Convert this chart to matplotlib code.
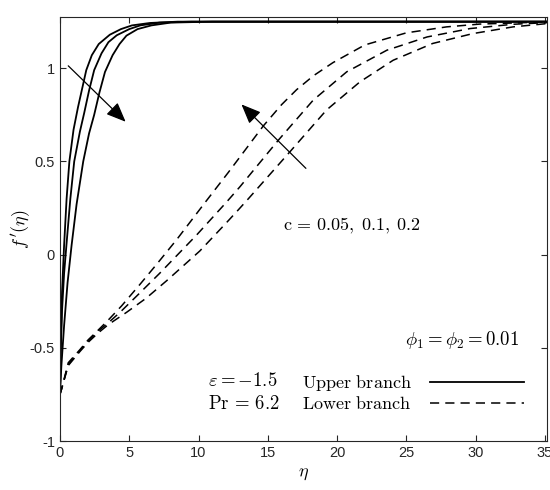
import matplotlib
matplotlib.use('Agg')
import matplotlib.pyplot as plt

plt.rcParams['mathtext.fontset'] = 'cm'
plt.rcParams['font.family'] = ['Liberation Sans', 'DejaVu Sans']

# upper branch (solid), c = 0.05, 0.1, 0.2
eta_u1 = [0, 0.06, 0.15, 0.3, 0.48, 0.68, 0.98, 1.3, 1.6, 1.9, 2.3, 2.8, 3.6, 4.4, 5.2, 6.5, 8.5, 12, 35.2]
fp_u1 = [-0.75, -0.5, -0.2, 0.05, 0.3, 0.5, 0.67, 0.79, 0.89, 0.99, 1.07, 1.13, 1.18, 1.21, 1.23, 1.243, 1.25, 1.25, 1.25]
eta_u2 = [0, 0.06, 0.15, 0.3, 0.5, 0.75, 1.03, 1.44, 1.75, 2.1, 2.47, 3.0, 3.5, 4.1, 5.0, 5.8, 7.2, 9.5, 13, 35.2]
fp_u2 = [-0.75, -0.5, -0.3, -0.1, 0.08, 0.3, 0.5, 0.66, 0.76, 0.88, 0.99, 1.08, 1.14, 1.177, 1.21, 1.23, 1.245, 1.25, 1.25, 1.25]
eta_u3 = [0, 0.1, 0.3, 0.55, 0.84, 1.2, 1.68, 2.1, 2.47, 2.85, 3.25, 3.8, 4.3, 4.8, 5.6, 6.6, 8.0, 11, 35.2]
fp_u3 = [-0.75, -0.6, -0.38, -0.15, 0.05, 0.27, 0.5, 0.65, 0.75, 0.87, 0.98, 1.07, 1.13, 1.175, 1.21, 1.23, 1.245, 1.25, 1.25]

# lower branch (dashed)
eta_l1 = [0, 0.12, 0.6, 1.44, 2.04, 2.76, 3.5, 4.45, 5.77, 7.0, 8.42, 10.58, 12.14, 14.67, 16.0, 17.08, 18.3, 19.7, 22.0, 25.0, 27.9, 30.3, 35.2]
fp_l1 = [-0.75, -0.72, -0.58, -0.51, -0.457, -0.405, -0.35, -0.275, -0.16, -0.05, 0.08, 0.29, 0.44, 0.69, 0.805, 0.885, 0.96, 1.03, 1.125, 1.19, 1.222, 1.237, 1.249]
eta_l2 = [0, 0.12, 0.6, 1.44, 2.04, 2.76, 3.5, 4.33, 5.5, 7.2, 9.86, 12.0, 13.0, 15.75, 18.28, 20.7, 23.6, 26.5, 29.6, 32.7, 35.2]
fp_l2 = [-0.75, -0.72, -0.59, -0.515, -0.465, -0.41, -0.365, -0.31, -0.225, -0.1, 0.105, 0.28, 0.365, 0.613, 0.829, 0.981, 1.097, 1.168, 1.213, 1.236, 1.245]
eta_l3 = [0, 0.12, 0.6, 1.44, 2.04, 2.76, 3.5, 4.8, 6.2, 7.7, 10.1, 12.0, 12.87, 13.6, 16.6, 19.24, 21.65, 24.05, 26.9, 29.8, 32.7, 35.2]
fp_l3 = [-0.75, -0.72, -0.595, -0.52, -0.47, -0.42, -0.375, -0.31, -0.235, -0.14, 0.02, 0.17, 0.24, 0.3, 0.552, 0.776, 0.927, 1.043, 1.133, 1.186, 1.222, 1.24]

fig = plt.figure(figsize=(5.5, 4.9), dpi=100)
ax = fig.add_axes([0.109, 0.1, 0.8855, 0.8653])

dash = (0, (6, 4))
for x, y in [(eta_u1, fp_u1), (eta_u2, fp_u2), (eta_u3, fp_u3)]:
    ax.plot(x, y, color='black', lw=1.3, label='_nolegend_')
for x, y in [(eta_l1, fp_l1), (eta_l2, fp_l2), (eta_l3, fp_l3)]:
    ax.plot(x, y, color='black', lw=1.1, linestyle=dash, label='_nolegend_')

# legend handles
ax.plot([], [], color='black', lw=1.3, label=r'$\mathrm{Upper\ branch}$')
ax.plot([], [], color='black', lw=1.1, linestyle=dash, label=r'$\mathrm{Lower\ branch}$')
ax.legend(loc='lower right', bbox_to_anchor=(0.986, 0.028), frameon=False, markerfirst=False,
          handlelength=5.2, handletextpad=1.0, labelspacing=0.15, fontsize=13)

# arrows
arr = dict(arrowstyle='-|>,head_length=1.2,head_width=0.5', color='black', lw=0.9, shrinkA=0, shrinkB=0)
ax.annotate('', xy=(4.74, 0.713), xytext=(0.6, 1.013), arrowprops=arr)
ax.annotate('', xy=(13.1, 0.806), xytext=(17.75, 0.463), arrowprops=arr)

fs = 13.5
ax.text(16.1, 0.154, r'$\mathrm{c}\,=\,0.05,\;0.1,\;0.2$', fontsize=13, va='center')
ax.text(24.9, -0.457, r'$\phi_1=\phi_2=0.01$', fontsize=fs, va='center')
ax.text(10.7, -0.677, r'$\varepsilon=-1.5$', fontsize=fs, va='center')
ax.text(10.7, -0.80, r'$\mathrm{Pr}\,=\,6.2$', fontsize=fs, va='center')

ax.set_xlim(0, 35.15)
ax.set_ylim(-1, 1.275)
ax.set_xticks([0, 5, 10, 15, 20, 25, 30, 35])
ax.set_yticks([-1, -0.5, 0, 0.5, 1])
ax.set_yticklabels(['-1', '-0.5', '0', '0.5', '1'])
ax.tick_params(direction='in', top=True, right=True, length=4.5, width=0.8,
               labelsize=10.5, colors='#262626', labelcolor='#262626')
for s in ax.spines.values():
    s.set_color('#262626')
    s.set_linewidth(0.8)

ax.set_xlabel(r'$\eta$', fontsize=13, labelpad=4)
ax.set_ylabel(r"$f\,'(\eta)$", fontsize=13, labelpad=-2)

plt.savefig('out.png', dpi=100)
plt.close()
